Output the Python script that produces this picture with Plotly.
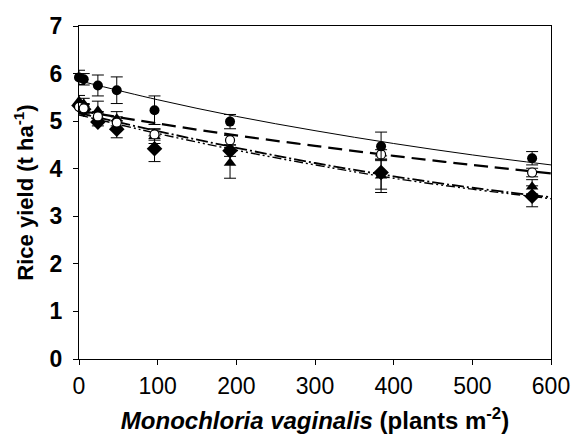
import plotly.graph_objects as go

# Weed density (plants m-2)
density = [0, 6, 24, 48, 96, 192, 384, 576]

# Observed rice yields (t ha-1) per treatment
yield_filled_circle = [5.92, 5.88, 5.75, 5.65, 5.23, 4.99, 4.47, 4.22]
yield_open_circle = [5.30, 5.27, 5.10, 4.97, 4.72, 4.60, 4.30, 3.92]
yield_triangle = [5.42, 5.36, 5.22, 5.05, 4.68, 4.12, 3.85, 3.62]
yield_diamond = [5.33, 5.25, 4.98, 4.83, 4.42, 4.38, 3.92, 3.42]

# Standard errors
se_filled_circle = [0.15, 0.12, 0.22, 0.28, 0.30, 0.15, 0.30, 0.14]
se_open_circle = [0.10, 0.10, 0.10, 0.12, 0.12, 0.10, 0.10, 0.09]
se_triangle = [0.12, 0.12, 0.20, 0.15, 0.15, 0.32, 0.35, 0.15]
se_diamond = [0.10, 0.10, 0.08, 0.18, 0.27, 0.12, 0.35, 0.22]

# Fitted curves
curve_x = [0, 100, 200, 300, 400, 500, 600]
curve_filled_circle = [5.85, 5.45, 5.10, 4.80, 4.53, 4.29, 4.08]
curve_open_circle = [5.22, 4.95, 4.70, 4.48, 4.27, 4.08, 3.90]
curve_triangle = [5.17, 4.79, 4.44, 4.12, 3.84, 3.60, 3.40]
curve_diamond = [5.13, 4.74, 4.39, 4.08, 3.80, 3.57, 3.37]

x_ticks = [0, 100, 200, 300, 400, 500, 600]
y_ticks = [0, 1, 2, 3, 4, 5, 6, 7]
y_tick_labels = ["0", "1", "2", "3", "4", "5", "6", "7"]

fig = go.Figure()

curves = [
    (curve_filled_circle, dict(color="black", width=1, dash="solid")),
    (curve_open_circle, dict(color="black", width=2.2, dash="14px,7px")),
    (curve_triangle, dict(color="black", width=1.8, dash="12px,3px,2px,3px")),
    (curve_diamond, dict(color="black", width=1.4, dash="9px,3px,2px,3px,2px,3px")),
]
for cy, ln in curves:
    fig.add_trace(go.Scatter(x=curve_x, y=cy, mode="lines", line=dict(shape="spline", **ln),
                             showlegend=False, hoverinfo="skip"))

series = [
    (yield_triangle, se_triangle, dict(symbol="triangle-up", size=11, color="black")),
    (yield_diamond, se_diamond, dict(symbol="diamond", size=12, color="black")),
    (yield_open_circle, se_open_circle, dict(symbol="circle", size=9, color="white",
                                             line=dict(color="black", width=1.2))),
    (yield_filled_circle, se_filled_circle, dict(symbol="circle", size=10, color="black")),
]
for ys, se, mk in series:
    fig.add_trace(go.Scatter(x=density, y=ys, mode="markers", marker=mk,
                             error_y=dict(type="data", array=se, visible=True,
                                          color="black", thickness=1, width=6),
                             showlegend=False, cliponaxis=False))

font_family = "Liberation Sans, Arial, sans-serif"

fig.update_layout(
    width=582, height=441,
    margin=dict(l=79, r=23, t=26, b=82),
    paper_bgcolor="white", plot_bgcolor="white",
    font=dict(family=font_family, color="black"),
    xaxis=dict(
        range=[0, 600], tickvals=x_ticks, ticks="outside", ticklen=5, tickcolor="black",
        showline=True, linecolor="black", linewidth=1, mirror=True, showgrid=False,
        zeroline=False, tickfont=dict(size=23, family=font_family), ticklabelstandoff=1,
        title=dict(text="<b><i>Monochloria vaginalis</i> (plants m<sup>-2</sup>)</b>",
                   font=dict(size=24, family=font_family), standoff=14),
    ),
    yaxis=dict(
        range=[0, 7], tickvals=y_ticks,
        ticktext=["<b>" + t + "</b>" for t in y_tick_labels],
        ticks="outside", ticklen=5, tickcolor="black",
        showline=True, linecolor="black", linewidth=1, mirror=True, showgrid=False,
        zeroline=False, tickfont=dict(size=23, family=font_family),
        ticklabelstandoff=6,
        title=dict(text="<b>Rice yield (t ha<sup>-1</sup>)</b>",
                   font=dict(size=22, family=font_family), standoff=9),
    ),
)

fig.write_html("out.html")
